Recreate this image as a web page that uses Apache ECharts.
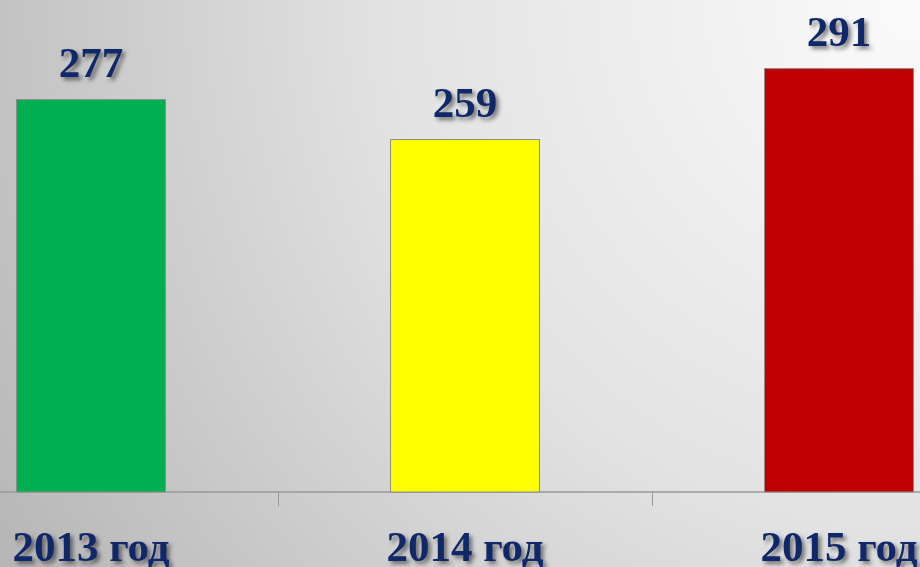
<!DOCTYPE html>
<html>
<head>
<meta charset="utf-8">
<script src="https://cdn.jsdelivr.net/npm/echarts@6/dist/echarts.min.js"></script>
<style>
  html, body { margin: 0; padding: 0; }
  #chart { width: 920px; height: 567px; }
</style>
</head>
<body>
<div id="chart"></div>
<script>
// данные
const years = ['2013 год', '2014 год', '2015 год'];
const values = [277, 259, 291];
const barColors = ['#00b050', '#ffff00', '#c00000'];

const chart = echarts.init(document.getElementById('chart'));

const textStyle = {
  fontFamily: '"Liberation Serif", "Times New Roman", serif',
  fontWeight: 'bold',
  fontSize: 43,
  color: '#10286a',
  textShadowColor: 'rgba(0, 0, 0, 0.5)',
  textShadowBlur: 4,
  textShadowOffsetX: 3,
  textShadowOffsetY: 3
};

chart.setOption({
  backgroundColor: {
    type: 'radial',
    x: 1,
    y: 0,
    r: 1.9,
    colorStops: [
      { offset: 0, color: '#fbfbfb' },
      { offset: 0.5, color: '#e2e2e2' },
      { offset: 1, color: '#b6b6b6' }
    ]
  },
  animation: false,
  grid: {
    left: -96,
    width: 1122,
    top: 48,
    height: 444,
    containLabel: false,
    outerBoundsMode: 'none'
  },
  xAxis: {
    type: 'category',
    data: years,
    axisLine: { lineStyle: { color: '#999999', width: 1.5 } },
    axisTick: { show: true, length: 14, lineStyle: { color: '#999999' } },
    axisLabel: { ...textStyle, margin: 36 }
  },
  yAxis: {
    type: 'value',
    min: 100,
    max: 300,
    show: false
  },
  series: [
    {
      type: 'bar',
      barWidth: 150,
      data: values.map((v, i) => ({
        value: v,
        itemStyle: { color: barColors[i] }
      })),
      itemStyle: { borderColor: '#8c8c8c', borderWidth: 1 },
      label: {
        show: true,
        position: 'top',
        distance: 12,
        ...textStyle
      }
    }
  ]
});
</script>
</body>
</html>
